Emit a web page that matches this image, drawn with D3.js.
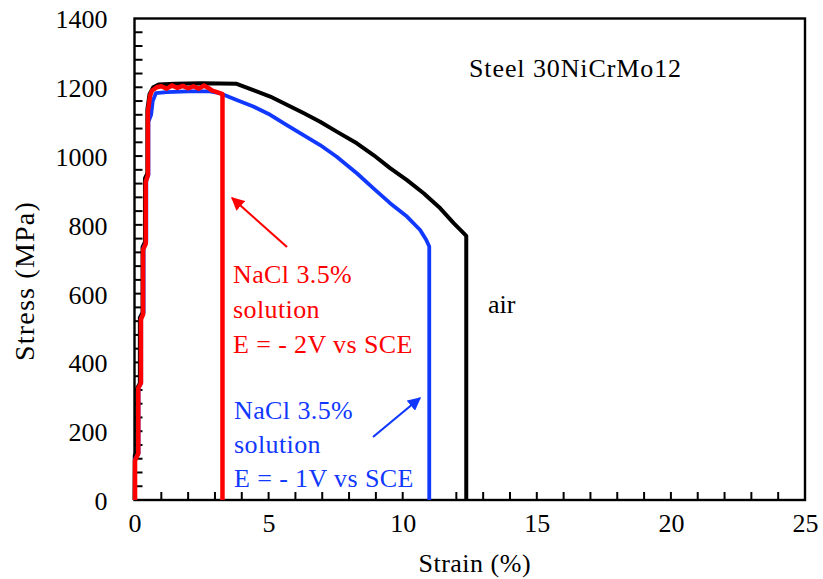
<!DOCTYPE html>
<html>
<head>
<meta charset="utf-8">
<script src="https://cdn.jsdelivr.net/npm/d3@7/dist/d3.min.js"></script>
<style>
  html, body { margin: 0; padding: 0; background: #fff; }
  svg { display: block; }
  text { font-family: "Liberation Serif", "Times New Roman", serif; }
</style>
</head>
<body>
<svg id="chart" width="823" height="579"></svg>
<script>
// Tensile curves of steel 30NiCrMo12: strain (%) vs stress (MPa)
const airStrain = [0, 0.01, 0.1, 0.1, 0.2, 0.2, 0.3, 0.3, 0.39, 0.39, 0.48, 0.48, 0.56, 0.7, 0.9, 1.5, 2.5, 3.19, 3.81, 4.43, 5.06, 5.68, 6.30, 6.92, 7.54, 8.29, 8.91, 9.53, 10.16, 10.78, 11.40, 11.90, 12.27, 12.37, 12.37];
const airStress = [0, 130, 140, 325, 340, 530, 545, 735, 750, 935, 950, 1135, 1180, 1200, 1208, 1210, 1212, 1211, 1210, 1192, 1173, 1149, 1125, 1100, 1071, 1037, 1003, 965, 930, 892, 848, 805, 776, 768, 0];

const v1Strain = [0.02, 0.02, 0.15, 0.15, 0.25, 0.25, 0.34, 0.34, 0.44, 0.44, 0.52, 0.52, 0.62, 0.68, 0.8, 1.2, 2.0, 2.8, 3.19, 3.81, 4.43, 5.06, 5.68, 6.30, 6.92, 7.54, 8.29, 8.91, 9.53, 10.16, 10.65, 10.88, 10.99, 10.99];
const v1Stress = [0, 120, 135, 325, 340, 530, 545, 735, 750, 930, 945, 1100, 1120, 1160, 1183, 1186, 1188, 1188, 1183, 1163, 1144, 1120, 1090, 1061, 1032, 998, 950, 906, 863, 824, 785, 756, 737, 0];

const v2Strain = [0.02, 0.02, 0.14, 0.14, 0.24, 0.24, 0.32, 0.32, 0.42, 0.42, 0.5, 0.5, 0.58, 0.65, 0.83, 1.0, 1.2, 1.4, 1.6, 1.8, 2.0, 2.2, 2.4, 2.6, 2.75, 2.9, 3.1, 3.28, 3.28];
const v2Stress = [0, 115, 135, 325, 340, 525, 540, 728, 745, 925, 945, 1130, 1175, 1190, 1200, 1203, 1196, 1205, 1198, 1204, 1197, 1203, 1196, 1205, 1198, 1190, 1185, 1180, 0];

const xTickLabels = [0, 5, 10, 15, 20, 25];
const yTickLabels = [0, 200, 400, 600, 800, 1000, 1200, 1400];
const xMinorTicks = [1, 2, 3, 4, 5, 6, 7, 8, 9, 10, 11, 12, 13, 14, 15, 16, 17, 18, 19, 20, 21, 22, 23, 24];
const yMinorTicks = [40, 80, 120, 160, 200, 240, 280, 320, 360, 400, 440, 480, 520, 560, 600, 640, 680,
  720, 760, 800, 840, 880, 920, 960, 1000, 1040, 1080, 1120, 1160, 1200, 1240, 1280, 1320, 1360];

const svg = d3.select("#chart");
const W = 823, H = 579;
const margin = { left: 134.5, right: W - 805, top: 18.5, bottom: H - 500 };

const x = d3.scaleLinear().domain([0, 25]).range([margin.left, W - margin.right]);
const y = d3.scaleLinear().domain([0, 1400]).range([H - margin.bottom, margin.top]);

const FS = 26;
const TICK = 8;

// frame
svg.append("rect")
  .attr("x", x(0)).attr("y", y(1400))
  .attr("width", x(25) - x(0)).attr("height", y(0) - y(1400))
  .attr("fill", "none").attr("stroke", "#000").attr("stroke-width", 2.4);

// inward tick marks
svg.append("g").selectAll("line").data(xMinorTicks).join("line")
  .attr("x1", d => x(d)).attr("x2", d => x(d))
  .attr("y1", y(0)).attr("y2", y(0) - TICK)
  .attr("stroke", "#000").attr("stroke-width", 2);
svg.append("g").selectAll("line").data(yMinorTicks).join("line")
  .attr("x1", x(0)).attr("x2", x(0) + TICK)
  .attr("y1", d => y(d)).attr("y2", d => y(d))
  .attr("stroke", "#000").attr("stroke-width", 2);

// curves
const line = d3.line().x(d => x(d[0])).y(d => y(d[1]));
const red = "#ff0000", blue = "#1038ff";
const curves = [
  { s: airStrain, t: airStress, color: "#000000", w: 4 },
  { s: v1Strain, t: v1Stress, color: blue, w: 3.8 },
  { s: v2Strain, t: v2Stress, color: red, w: 4.5 }
];
curves.forEach(c => {
  svg.append("path")
    .datum(c.s.map((v, i) => [v, c.t[i]]))
    .attr("d", line)
    .attr("fill", "none")
    .attr("stroke", c.color)
    .attr("stroke-width", c.w)
    .attr("stroke-linejoin", "round");
});

// tick labels
const xl = svg.append("g").attr("transform", `translate(0,${y(0)})`)
  .call(d3.axisBottom(x).tickValues(xTickLabels).tickSize(0).tickPadding(32).tickFormat(d3.format("d")));
const yl = svg.append("g").attr("transform", `translate(${x(0)},0)`)
  .call(d3.axisLeft(y).tickValues(yTickLabels).tickSize(0).tickPadding(27).tickFormat(d3.format("d")));
[xl, yl].forEach(g => {
  g.select(".domain").remove();
  g.selectAll("line").remove();
  g.selectAll("text").attr("font-family", "Liberation Serif, serif").attr("font-size", FS).attr("fill", "#000");
});
yl.selectAll("text").attr("dy", "0.36em");
xl.selectAll("text").attr("dy", "0");

// axis titles
svg.append("text")
  .attr("x", (x(0) + x(25)) / 2 + 5).attr("y", 572)
  .attr("text-anchor", "middle").attr("font-size", FS)
  .attr("letter-spacing", 0.5)
  .text("Strain (%)");
svg.append("text")
  .attr("transform", `translate(34,281) rotate(-90)`)
  .attr("text-anchor", "middle").attr("font-size", 28)
  .attr("letter-spacing", 1.2)
  .text("Stress (MPa)");

// labels
svg.append("text").attr("x", 469).attr("y", 77).attr("font-size", FS)
  .attr("letter-spacing", 0.9).text("Steel 30NiCrMo12");
svg.append("text").attr("x", 488).attr("y", 313).attr("font-size", FS).text("air");

const redLines = ["NaCl 3.5%", "solution", "E = - 2V vs SCE"];
const blueLines = ["NaCl 3.5%", "solution", "E = - 1V vs SCE"];
const rt = svg.append("text").attr("font-size", FS).attr("fill", red).attr("letter-spacing", 0.4);
redLines.forEach((t, i) => rt.append("tspan").attr("x", 233).attr("y", 283 + i * 35).text(t));
const bt = svg.append("text").attr("font-size", FS).attr("fill", blue).attr("letter-spacing", 0.4);
blueLines.forEach((t, i) => bt.append("tspan").attr("x", 234).attr("y", 419 + i * 34).text(t));

// arrows
const defs = svg.append("defs");
[["ar", red], ["ab", blue]].forEach(([id, col]) => {
  defs.append("marker").attr("id", id)
    .attr("viewBox", "0 0 10 10").attr("refX", 9).attr("refY", 5)
    .attr("markerWidth", 6).attr("markerHeight", 6).attr("orient", "auto")
    .attr("markerUnits", "strokeWidth")
    .append("path").attr("d", "M0,0 L10,5 L0,10 z").attr("fill", col);
});
svg.append("line").attr("x1", 287).attr("y1", 247).attr("x2", 232).attr("y2", 198)
  .attr("stroke", red).attr("stroke-width", 2.2).attr("marker-end", "url(#ar)");
svg.append("line").attr("x1", 373).attr("y1", 437).attr("x2", 420).attr("y2", 398)
  .attr("stroke", blue).attr("stroke-width", 2.2).attr("marker-end", "url(#ab)");
</script>
</body>
</html>
